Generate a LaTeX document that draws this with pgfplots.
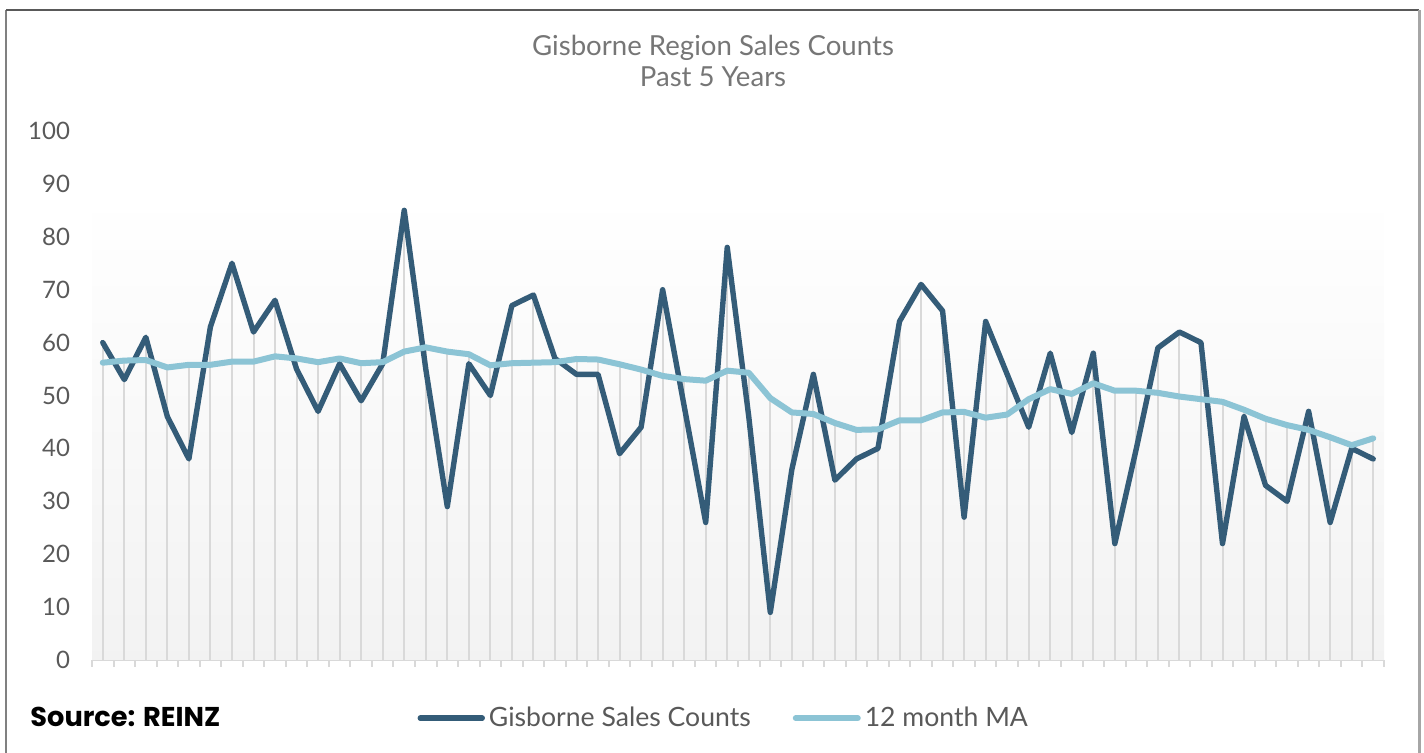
\documentclass[border=0pt]{standalone}
\usepackage{pgfplots}
\pgfplotsset{compat=1.18}
\usepackage{pgfplotstable}
\usepackage{fontspec}
\setmainfont{Lato}
\newfontfamily\srcfont{Poppins}
\definecolor{darkser}{HTML}{345C78}
\definecolor{maser}{HTML}{8CC4D5}
\definecolor{txtgray}{HTML}{595959}
\definecolor{ttlgray}{HTML}{767676}
\definecolor{dropgray}{HTML}{D9D9D9}
\pgfplotstableread{
x sales ma
0 60 56.2
1 53 56.6
2 61 56.7
3 46 55.3
4 38 55.8
5 63 55.8
6 75 56.4
7 62 56.4
8 68 57.4
9 55 57.0
10 47 56.3
11 56 57.0
12 49 56.1
13 56 56.3
14 85 58.3
15 55 59.1
16 29 58.3
17 56 57.8
18 50 55.7
19 67 56.1
20 69 56.2
21 57 56.3
22 54 56.9
23 54 56.8
24 39 55.9
25 44 54.9
26 70 53.7
27 48 53.1
28 26 52.8
29 78 54.7
30 46 54.3
31 9 49.5
32 36 46.8
33 54 46.5
34 34 44.8
35 38 43.5
36 40 43.6
37 64 45.3
38 71 45.3
39 66 46.8
40 27 46.9
41 64 45.8
42 54 46.4
43 44 49.3
44 58 51.2
45 43 50.3
46 58 52.3
47 22 50.9
48 40 50.9
49 59 50.5
50 62 49.8
51 60 49.3
52 22 48.8
53 46 47.3
54 33 45.6
55 30 44.4
56 47 43.5
57 26 42.1
58 40 40.6
59 38 41.9
}\datatable
\begin{document}
\begin{tikzpicture}
\useasboundingbox (0,0) rectangle (712pt,376.5pt);
% frame
\draw[color=black!50, line width=1pt] (3pt,0) -- (3pt,371.5pt);
\draw[color=txtgray, line width=1pt] (3pt,371.5pt) -- (709.5pt,371.5pt);
\draw[color=black!35, line width=1.5pt] (709.5pt,371.5pt) -- (709.5pt,0);
% title
\node[text=ttlgray, font=\fontsize{13.8}{16}\selectfont] at (356.5pt,352.5pt) {Gisborne Region Sales Counts};
\node[text=ttlgray, font=\fontsize{13.8}{16}\selectfont] at (356.5pt,338pt) {Past 5 Years};
% source
\node[anchor=west, font=\srcfont\bfseries\fontsize{13.6}{16}\selectfont] at (11.7pt,18pt) {Source: REINZ};
\begin{axis}[
  at={(46pt,46.5pt)}, anchor=south west,
  scale only axis, width=646pt, height=264.5pt,
  xmin=-0.5, xmax=59.5, ymin=0, ymax=100,
  axis x line*=bottom, axis y line*=left,
  y axis line style={draw=none},
  x axis line style={draw=dropgray, line width=1pt},
  xtick={-0.5,0.5,...,59.5}, xticklabels={},
  x tick style={draw=dropgray, line width=1pt},
  tick align=outside, major tick length=3.5pt,
  ytick={0,10,...,100}, y tick style={draw=none},
  yticklabel style={text=txtgray, font=\fontsize{12}{14}\selectfont, xshift=-4pt},
  /pgf/number format/assume math mode=true,
  clip=false,
  legend columns=2,
  legend style={at={(axis cs:14.6,-11)}, anchor=west, draw=none, fill=none,
    font=\fontsize{13.3}{15}\selectfont, text=txtgray, inner sep=0pt,
    /tikz/every even column/.append style={column sep=19pt}},
  legend image code/.code={\draw[#1, line cap=round] (0pt,0pt) -- (31pt,0pt);},
]
\fill[top color=white, bottom color=black!5, draw=none] (axis cs:-0.5,0) rectangle (axis cs:59.5,88);
\addplot[ycomb, draw=dropgray, line width=1pt, forget plot] table[x=x,y=sales] {\datatable};
\addplot[ycomb, draw=dropgray, line width=1pt, forget plot] table[x=x,y=ma] {\datatable};
\addplot[color=darkser, line width=2.7pt, line join=round, line cap=round, mark=none] table[x=x,y=sales] {\datatable};
\addlegendentry{Gisborne Sales Counts}
\addplot[color=maser, line width=3pt, line join=round, line cap=round, mark=none] table[x=x,y=ma] {\datatable};
\addlegendentry{12 month MA}
\end{axis}
\end{tikzpicture}
\end{document}
